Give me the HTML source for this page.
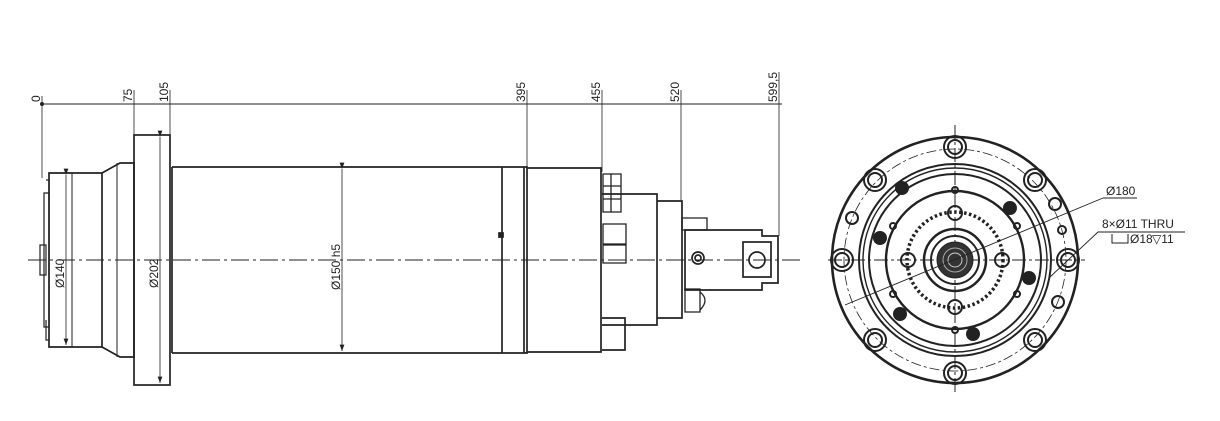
<!DOCTYPE html>
<html><head><style>body{margin:0;background:#fff}svg{display:block}text{font-family:"Liberation Sans",sans-serif;fill:#222}</style></head><body>
<svg width="1220" height="421" viewBox="0 0 1220 421" xmlns="http://www.w3.org/2000/svg">
<defs><marker id="a" markerWidth="8" markerHeight="6" refX="8" refY="3" orient="auto"><path d="M0,0L8,3L0,6z" fill="#222"/></marker></defs>
<g stroke="#222" fill="none" stroke-width="1">
<line x1="42" y1="104" x2="782" y2="104"/>
<g stroke-width="0.8">
<line x1="42" y1="96" x2="42" y2="178"/><line x1="134" y1="90" x2="134" y2="135"/><line x1="170" y1="90" x2="170" y2="135"/>
<line x1="527" y1="90" x2="527" y2="168"/><line x1="602" y1="90" x2="602" y2="172"/><line x1="681" y1="90" x2="681" y2="200"/><line x1="779" y1="72" x2="779" y2="236"/>
</g>
<circle cx="42" cy="104" r="1.5" fill="#222"/>
<line x1="28" y1="260" x2="800" y2="260" stroke-dasharray="18,4,3,4" stroke-width="0.9"/>
<g stroke-width="1.7">
<path d="M49,173H102V347H49z"/>
<line x1="72" y1="173" x2="72" y2="347" stroke-width="1"/>
<path d="M102,173L120,163H134V357H120L102,347"/>
<line x1="117" y1="163" x2="117" y2="357" stroke-width="1"/>
<path d="M44,193H49V327H44z" stroke-width="1.2"/>
<path d="M46,180H49V200M46,320V340H49" stroke-width="1.2"/>
<path d="M40,245H46V275H40z" stroke-width="1.2"/>
<rect x="134" y="135" width="36" height="250"/>
<line x1="172" y1="167" x2="172" y2="353"/>
<path d="M172,167H527V353H172"/>
<line x1="502" y1="167" x2="502" y2="353"/>
<line x1="524" y1="167" x2="524" y2="353"/>
<rect x="499" y="233" width="4" height="4" fill="#222"/>
<path d="M527,168H601V352H527"/>
<path d="M602,194H657V325H602"/>
<path d="M657,201H682V318H657"/>
<path d="M602,318H625V350H602"/>
<path d="M685,230H762V236H778V283H762V290H685z"/>
<rect x="743" y="242" width="28" height="35"/>
<circle cx="757" cy="260" r="8"/>
<circle cx="698" cy="258" r="6"/><circle cx="698" cy="258" r="3"/>
</g>
<g stroke-width="1.3">
<path d="M603,174H621V212H603z"/><line x1="611" y1="174" x2="611" y2="212"/><line x1="603" y1="186" x2="621" y2="186"/><line x1="603" y1="199" x2="621" y2="199"/>
<path d="M603,224H626V244H603z"/><path d="M603,245H626V263H603z"/>
<path d="M682,218H707V230H682z"/><path d="M685,289H700V312H685z"/><path d="M700,292Q710,300 700,310"/>
</g>
<g stroke-width="0.8">
<line x1="66" y1="175" x2="66" y2="345" marker-start="url(#a)" marker-end="url(#a)"/>
<line x1="160" y1="137" x2="160" y2="383" marker-start="url(#a)" marker-end="url(#a)"/>
<line x1="342" y1="169" x2="342" y2="351" marker-start="url(#a)" marker-end="url(#a)"/>
</g>
</g>
<g font-size="12">
<text transform="translate(40,102) rotate(-90)">0</text>
<text transform="translate(132,102) rotate(-90)">75</text>
<text transform="translate(168,102) rotate(-90)">105</text>
<text transform="translate(525,102) rotate(-90)">395</text>
<text transform="translate(600,102) rotate(-90)">455</text>
<text transform="translate(679,102) rotate(-90)">520</text>
<text transform="translate(777,102) rotate(-90)">599,5</text>
<text transform="translate(64,288) rotate(-90)">Ø140</text>
<text transform="translate(158,288) rotate(-90)">Ø202</text>
<text transform="translate(340,290) rotate(-90)">Ø150 h5</text>
</g>
<g stroke="#222" fill="none" transform="translate(955,260)">
<line x1="-127" y1="0" x2="130" y2="0" stroke-dasharray="14,3,3,3"/>
<line x1="0" y1="-135" x2="0" y2="135" stroke-dasharray="14,3,3,3"/>
<circle r="123" stroke-width="2.6"/>
<circle r="111" stroke-dasharray="10,3,3,3" stroke-width="0.8"/>
<circle r="96" stroke-width="2"/><circle r="92" stroke-width="1.4"/><circle r="86" stroke-width="2"/>
<circle r="69" stroke-width="2.4"/>
<circle r="48" stroke-dasharray="2.5,2.5" stroke-width="3.5"/>
<circle r="31" stroke-width="2.5"/><circle r="24" stroke-width="2"/>
<circle r="18" fill="#333" stroke-width="1"/><circle r="12" stroke="#aaa"/><circle r="7" stroke="#ccc"/>
<g stroke-width="2">
<circle cx="113" cy="0" r="11"/><circle cx="113" cy="0" r="7"/>
<circle cx="-113" cy="0" r="11"/><circle cx="-113" cy="0" r="7"/>
<circle cx="0" cy="113" r="11"/><circle cx="0" cy="113" r="7"/>
<circle cx="0" cy="-113" r="11"/><circle cx="0" cy="-113" r="7"/>
<circle cx="80" cy="80" r="11"/><circle cx="80" cy="80" r="7"/>
<circle cx="-80" cy="80" r="11"/><circle cx="-80" cy="80" r="7"/>
<circle cx="80" cy="-80" r="11"/><circle cx="80" cy="-80" r="7"/>
<circle cx="-80" cy="-80" r="11"/><circle cx="-80" cy="-80" r="7"/>
<circle cx="-103" cy="-42" r="6"/><circle cx="103" cy="42" r="6"/><circle cx="100" cy="-56" r="6"/><circle cx="107" cy="-30" r="4"/>
<circle cx="-53" cy="-72" r="6" fill="#222"/><circle cx="55" cy="-52" r="6" fill="#222"/><circle cx="-75" cy="-22" r="6" fill="#222"/>
<circle cx="-55" cy="54" r="6" fill="#222"/><circle cx="74" cy="18" r="6" fill="#222"/><circle cx="18" cy="74" r="6" fill="#222"/>
<circle cx="0" cy="-47" r="7"/><circle cx="0" cy="47" r="7"/><circle cx="-47" cy="0" r="7"/><circle cx="47" cy="0" r="7"/>
<circle cx="-62" cy="-34" r="3"/><circle cx="62" cy="-34" r="3"/><circle cx="-62" cy="34" r="3"/><circle cx="62" cy="34" r="3"/><circle cx="0" cy="-70" r="3"/><circle cx="0" cy="70" r="3"/>
</g>
<line x1="-110" y1="45" x2="148" y2="-62" stroke-width="0.9"/>
<line x1="148" y1="-62" x2="182" y2="-62" stroke-width="0.9"/>
<line x1="95" y1="17" x2="143" y2="-28" stroke-width="0.9"/>
<line x1="143" y1="-28" x2="230" y2="-28" stroke-width="0.9"/>
</g>
<g font-size="12">
<text x="1106" y="195">Ø180</text>
<text x="1102" y="228">8×Ø11 THRU</text>
<text x="1130" y="243">Ø18</text><text x="1152" y="243">▽11</text>
</g>
<path d="M1112,234V243H1128V234" stroke="#222" fill="none"/>
</svg>
</body></html>
